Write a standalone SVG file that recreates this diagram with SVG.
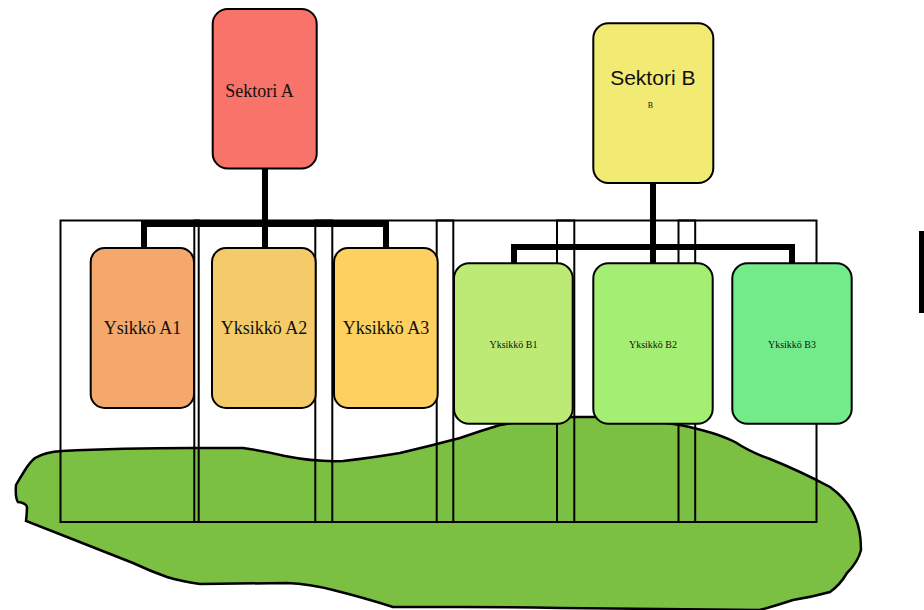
<svg xmlns="http://www.w3.org/2000/svg" width="924" height="610" viewBox="0 0 924 610">
<style>
.box{stroke:#000;stroke-width:2}
.frame{fill:none;stroke:#000;stroke-width:2}
.conn{fill:none;stroke:#000;stroke-width:6;stroke-linejoin:miter}
.serif{font-family:"Liberation Serif","Times New Roman",serif;fill:#111;text-anchor:middle}
.sans{font-family:"Liberation Sans",Arial,sans-serif;fill:#111;text-anchor:middle}
</style>
<rect width="924" height="610" fill="#fff"/>
<g id="blob">
<path d="M35 458 Q45 452 62 451 Q120 448 193 448 L243 448 Q265 451 285 456 Q315 462 343 461 Q370 458 400 453 Q430 446 460 438 Q480 431 500 425 Q540 417 575 417 L597 417 Q640 418 680 425 Q715 432 735 442 Q750 452 770 459 Q800 471 830 487 Q848 500 855 517 Q861 530 861 550 Q858 562 847 573 Q840 585 830 592 Q812 597 793 600 Q778 605 760 610 L560 608 Q510 607 460 607 Q425 607 393 607 Q365 598 333 590 Q310 584 287 583 L200 584 Q180 581 167 577 Q150 571 133 563 L67 537 L26 521 Q27 512 27 507 Q26 503 18 502 Q15 498 16 485 Q20 478 25 470 Q30 462 35 458 Z" fill="#7BC043" stroke="#000" stroke-width="2.5"/>
</g>
<g id="frames">
<rect class="frame" x="60.5" y="220.5" width="756" height="301.5"/>
<rect class="frame" x="194.3" y="220.5" width="4.4" height="301.5"/>
<rect class="frame" x="315.3" y="220.5" width="17" height="301.5"/>
<rect class="frame" x="436.7" y="220.5" width="16.6" height="301.5"/>
<rect class="frame" x="557" y="220.5" width="17.3" height="301.5"/>
<rect class="frame" x="678.5" y="220.5" width="16.7" height="301.5"/>
</g>
<g id="connectors">
<path class="conn" d="M265 169 V248"/>
<path class="conn" d="M144 248 V224 H386 V248"/>
<path class="conn" d="M653 183 V263"/>
<path class="conn" d="M514 263 V247 H792 V263"/>
</g>
<g id="sektoriA">
<rect class="box" x="212.7" y="9" width="104" height="159.5" rx="15" fill="#F87369"/>
<text class="serif" x="259.5" y="96.5" font-size="18">Sektori A</text>
</g>
<g id="sektoriB">
<rect class="box" x="593.3" y="23.3" width="120" height="159.7" rx="15" fill="#F2EB73"/>
<text class="sans" x="652.8" y="85" font-size="21">Sektori B</text>
<text class="serif" x="650.5" y="107.5" font-size="8">B</text>
</g>
<g id="yksikkoA1">
<rect class="box" x="90.7" y="248" width="103.3" height="160" rx="14" fill="#F4A86C"/>
<text class="serif" x="142.5" y="334" font-size="18">Ysikkö A1</text>
</g>
<g id="yksikkoA2">
<rect class="box" x="212" y="248" width="103.7" height="160" rx="14" fill="#F5CB6A"/>
<text class="serif" x="264" y="334" font-size="18">Yksikkö A2</text>
</g>
<g id="yksikkoA3">
<rect class="box" x="334" y="248" width="103.7" height="160" rx="14" fill="#FDD05F"/>
<text class="serif" x="386" y="334" font-size="18">Yksikkö A3</text>
</g>
<g id="yksikkoB1">
<rect class="box" x="454" y="263.3" width="118.7" height="160.5" rx="15" fill="#BDEA75"/>
<text class="serif" x="513.5" y="348" font-size="10">Yksikkö B1</text>
</g>
<g id="yksikkoB2">
<rect class="box" x="593.3" y="263.3" width="119.4" height="160.5" rx="15" fill="#A5EE74"/>
<text class="serif" x="653" y="348" font-size="10">Yksikkö B2</text>
</g>
<g id="yksikkoB3">
<rect class="box" x="732.3" y="263.3" width="119.4" height="160.5" rx="15" fill="#73EB8B"/>
<text class="serif" x="792" y="348" font-size="10">Yksikkö B3</text>
</g>
<rect x="919" y="231" width="8" height="82" fill="#000"/>
</svg>
